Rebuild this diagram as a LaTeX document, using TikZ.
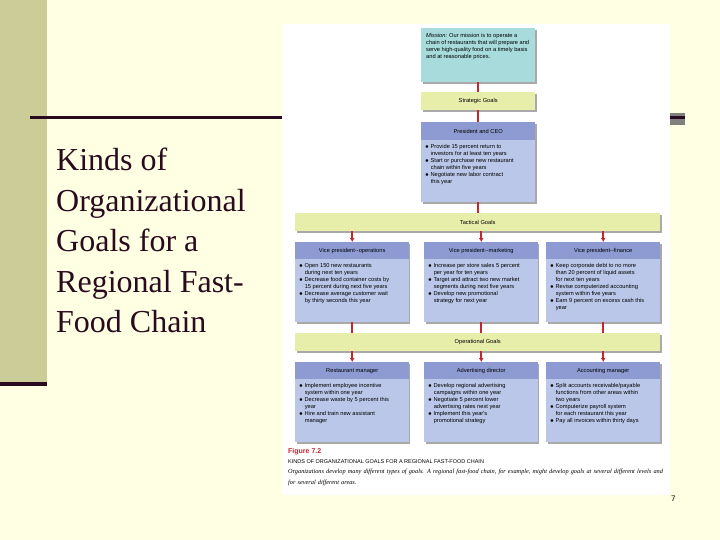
\documentclass[tikz,border=0pt]{standalone}
\usepackage{fontspec}
\usetikzlibrary{arrows.meta}
\setmainfont{Liberation Serif}
\newfontfamily\sansf{Liberation Sans}
\newcommand{\bx}[2]{\parbox[t][55pt][t]{#1}{\raggedright #2}}
\begin{document}
\begin{tikzpicture}[x=1pt,y=-1pt,
  every node/.style={inner sep=0pt,font=\sansf\fontsize{5.7}{7}\selectfont},
  bodyb/.style={anchor=north west,fill=bluebody,inner sep=4pt},
  arr/.style={draw=redarr,line width=2pt,-{Latex[length=4pt,width=5pt]}},
  ln/.style={draw=redarr,line width=2pt}]
\definecolor{bg}{HTML}{FFFFE3}
\definecolor{olive}{HTML}{CCCC99}
\definecolor{dark}{HTML}{2A0A1E}
\definecolor{teal}{HTML}{A8DCDC}
\definecolor{green}{HTML}{E6EEAA}
\definecolor{bluehead}{HTML}{8E9BD2}
\definecolor{bluebody}{HTML}{BAC7E8}
\definecolor{redarr}{HTML}{C4262E}
\definecolor{shad}{HTML}{A9A9A9}
\useasboundingbox (0,0) rectangle (720,540);
\fill[bg] (0,0) rectangle (720,540);
\fill[olive] (0,0) rectangle (47,384);
\fill[dark] (0,382) rectangle (47,386);
\fill[dark] (30,116) rectangle (282,119);
\fill[gray] (670,113) rectangle (685,125);
\fill[dark] (670,116) rectangle (685,119);
\fill[white] (282,24) rectangle (670,495);
\node[anchor=north west,align=left,font=\fontsize{32}{40.5}\selectfont,text=dark] (title) at (56,148)
 {Kinds of\\Organizational\\Goals for a\\Regional Fast-\\Food Chain};
\foreach \a/\b/\c/\d in {421/28/535/82, 421/92/535/110, 421/122/535/202, 295/213/660/231,
  295/242/408/322, 424/242/537/322, 546/242/660/322, 295/333/660/351,
  295/362/408/442, 424/362/537/442, 546/362/660/442}
  \fill[shad] (\a+2,\b+2) rectangle (\c+2,\d+2);
\node[anchor=north west,fill=teal,inner sep=5pt] (mission) at (421,28)
 {\parbox[t][44pt][t]{104pt}{\raggedright\itshape\sansf Mission: \upshape Our mission is to operate a chain of restaurants that will prepare and serve high-quality food on a timely basis and at reasonable prices.}};
\node[anchor=north west,fill=green,minimum width=114pt,minimum height=18pt] (strat) at (421,92) {Strategic Goals};
\node[anchor=north west,fill=bluehead,minimum width=114pt,minimum height=18pt] (pres) at (421,122) {President and CEO};
\node[bodyb] (presb) at (421,140)
 {\parbox[t][54pt][t]{106pt}{\raggedright $\bullet$ Provide 15 percent return to\\\hspace*{4pt} investors for at least ten years\\$\bullet$ Start or purchase new restaurant\\\hspace*{4pt} chain within five years\\$\bullet$ Negotiate new labor contract\\\hspace*{4pt} this year}};
\node[anchor=north west,fill=green,minimum width=365pt,minimum height=18pt] (tact) at (295,213) {Tactical Goals};
\foreach \n/\x/\t in {vpo/295/Vice president--operations, vpm/424/Vice president--marketing, vpf/546/Vice president--finance}
  \node[anchor=north west,fill=bluehead,minimum width=114pt,minimum height=17pt] (\n) at (\x,242) {\t};
\node[bodyb] (vpob) at (295,259)
 {\bx{106pt}{$\bullet$ Open 150 new restaurants\\\hspace*{4pt} during next ten years\\$\bullet$ Decrease food container costs by\\\hspace*{4pt} 15 percent during next five years\\$\bullet$ Decrease average customer wait\\\hspace*{4pt} by thirty seconds this year}};
\node[bodyb] (vpmb) at (424,259)
 {\bx{106pt}{$\bullet$ Increase per store sales 5 percent\\\hspace*{4pt} per year for ten years\\$\bullet$ Target and attract two new market\\\hspace*{4pt} segments during next five years\\$\bullet$ Develop new promotional\\\hspace*{4pt} strategy for next year}};
\node[bodyb] (vpfb) at (546,259)
 {\bx{106pt}{$\bullet$ Keep corporate debt to no more\\\hspace*{4pt} than 20 percent of liquid assets\\\hspace*{4pt} for next ten years\\$\bullet$ Revise computerized accounting\\\hspace*{4pt} system within five years\\$\bullet$ Earn 9 percent on excess cash this\\\hspace*{4pt} year}};
\node[anchor=north west,fill=green,minimum width=365pt,minimum height=18pt] (oper) at (295,333) {Operational Goals};
\foreach \n/\x/\t in {rm/295/Restaurant manager, ad/424/Advertising director, am/546/Accounting manager}
  \node[anchor=north west,fill=bluehead,minimum width=114pt,minimum height=17pt] (\n) at (\x,362) {\t};
\node[bodyb] (rmb) at (295,379)
 {\bx{106pt}{$\bullet$ Implement employee incentive\\\hspace*{4pt} system within one year\\$\bullet$ Decrease waste by 5 percent this\\\hspace*{4pt} year\\$\bullet$ Hire and train new assistant\\\hspace*{4pt} manager}};
\node[bodyb] (adb) at (424,379)
 {\bx{106pt}{$\bullet$ Develop regional advertising\\\hspace*{4pt} campaigns within one year\\$\bullet$ Negotiate 5 percent lower\\\hspace*{4pt} advertising rates next year\\$\bullet$ Implement this year's\\\hspace*{4pt} promotional strategy}};
\node[bodyb] (amb) at (546,379)
 {\bx{106pt}{$\bullet$ Split accounts receivable/payable\\\hspace*{4pt} functions from other areas within\\\hspace*{4pt} two years\\$\bullet$ Computerize payroll system\\\hspace*{4pt} for each restaurant this year\\$\bullet$ Pay all invoices within thirty days}};
\draw[ln] (mission.south) -- (strat.north);
\draw[ln] (strat.south) -- (pres.north);
\draw[ln] (presb.south) -- (presb.south |- tact.north);
\draw[arr] (vpo.north |- tact.south) -- (vpo.north);
\draw[arr] (vpm.north |- tact.south) -- (vpm.north);
\draw[arr] (vpf.north |- tact.south) -- (vpf.north);
\draw[ln] (vpob.south) -- (vpob.south |- oper.north);
\draw[ln] (vpmb.south) -- (vpmb.south |- oper.north);
\draw[ln] (vpfb.south) -- (vpfb.south |- oper.north);
\draw[arr] (rm.north |- oper.south) -- (rm.north);
\draw[arr] (ad.north |- oper.south) -- (ad.north);
\draw[arr] (am.north |- oper.south) -- (am.north);
\node[anchor=north west,text=redarr,font=\sansf\bfseries\fontsize{7}{8}\selectfont] (fig) at (288,448) {Figure 7.2};
\node[anchor=north west,font=\sansf\fontsize{5.5}{6}\selectfont] (cap1) at (288,459) {KINDS OF ORGANIZATIONAL GOALS FOR A REGIONAL FAST-FOOD CHAIN};
\node[anchor=north west,text width=375pt,align=left,font=\fontsize{6.3}{11}\selectfont\itshape] (cap2) at (288,469)
 {Organizations develop many different types of goals. A regional fast-food chain, for example, might develop goals at several different levels and for several different areas.};
\node[anchor=north west,font=\sansf\fontsize{8}{9}\selectfont] (pg) at (671,496) {7};
\end{tikzpicture}
\end{document}
